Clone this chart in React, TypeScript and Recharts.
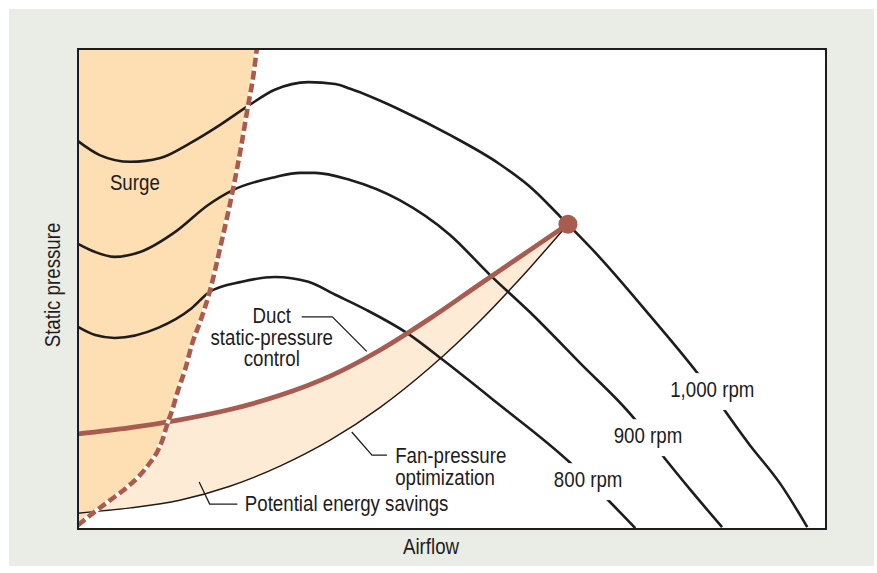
import { ComposedChart, Line, Area, Scatter, XAxis, YAxis } from 'recharts'

// fan curves (airflow 0-100, static pressure 0-100)
const rpm1000X = [0, 2.9, 7.0, 11.0, 15.0, 19.0, 22.7, 26.3, 30.8, 34.4, 36.4, 43.1, 49.7, 56.4, 60.8, 64.4, 69.8, 76.5, 82.8, 89.8, 93.9, 97.5]
const rpm1000Y = [80.8, 77.9, 76.5, 77.3, 80.4, 84.2, 88.1, 91.5, 93.1, 92.7, 91.7, 87.3, 82.1, 76.0, 70.8, 65.2, 56.5, 44.4, 32.5, 17.5, 9.4, 0.4]

const rpm900X = [0, 2.3, 4.9, 8.3, 13.0, 17.4, 20.7, 26.3, 29.7, 31.7, 36.4, 43.0, 49.7, 55.1, 60.4, 67.1, 74.2, 77.8, 81.8, 86.1]
const rpm900Y = [59.4, 57.7, 56.7, 57.7, 61.9, 67.5, 70.6, 73.3, 74.2, 74.2, 72.7, 68.5, 61.3, 52.9, 45.2, 34.6, 23.3, 16.0, 8.3, 0.4]

const rpm800X = [0, 2.3, 4.9, 10.7, 15.2, 17.6, 21.9, 26.3, 30.8, 34.4, 38.6, 44.0, 48.8, 56.0, 65.8, 69.8, 74.5]
const rpm800Y = [42.1, 40.4, 39.8, 41.9, 46.0, 49.4, 51.5, 52.5, 51.5, 48.8, 45.6, 40.8, 35.2, 26.3, 13.8, 7.7, 0.2]

// surge limit line
const surgeX = [0, 2.0, 4.3, 6.6, 8.3, 9.6, 10.6, 11.3, 11.9, 12.6, 13.4, 14.3, 15.2, 16.4, 17.6, 19.1, 20.7, 21.8, 22.7, 23.4, 23.9]
const surgeY = [0.8, 3.3, 6.0, 8.75, 11.25, 13.75, 16.1, 18.6, 21.7, 24.8, 29.0, 33.1, 38.3, 43.5, 49.4, 59.2, 70.6, 79.6, 87.9, 94.0, 100]

// system curves: duct static-pressure control vs fan-pressure optimization
const systemX = [0, 7.0, 13.6, 20.3, 27.0, 33.7, 40.4, 47.1, 53.7, 60.4, 65.5]
const ductY = [19.8, 21.1, 22.75, 24.9, 27.85, 31.85, 37.3, 43.9, 51.0, 58.1, 63.5]
const optY = [3.3, 4.4, 6.0, 8.9, 13.1, 18.5, 25.35, 33.7, 43.3, 54.4, 63.5]

const designPoint = [{ x: 65.5, y: 63.5 }]

// leader lines from the callouts
const ductLeader = [{ x: 29.9, y: 44.2 }, { x: 34.0, y: 44.2 }, { x: 38.6, y: 37.0 }]
const optLeader = [{ x: 41.3, y: 15.4 }, { x: 39.3, y: 15.4 }, { x: 36.6, y: 20.2 }]
const savingsLeader = [{ x: 21.3, y: 5.2 }, { x: 17.6, y: 5.2 }, { x: 16.2, y: 9.8 }]

const notes = [
  { x: 7.6, y: 70.6, text: 'Surge', anchor: 'middle', bg: false },
  { x: 25.9, y: 43.0, text: 'Duct', anchor: 'middle', bg: false },
  { x: 25.9, y: 38.4, text: 'static-pressure', anchor: 'middle', bg: false },
  { x: 25.9, y: 34.0, text: 'control', anchor: 'middle', bg: false },
  { x: 42.4, y: 13.75, text: 'Fan-pressure', anchor: 'start', bg: false },
  { x: 42.4, y: 9.2, text: 'optimization', anchor: 'start', bg: false },
  { x: 22.3, y: 3.75, text: 'Potential energy savings', anchor: 'start', bg: false },
  { x: 84.8, y: 27.5, text: '1,000 rpm', anchor: 'middle', bg: true },
  { x: 76.2, y: 17.9, text: '900 rpm', anchor: 'middle', bg: true },
  { x: 68.2, y: 8.75, text: '800 rpm', anchor: 'middle', bg: true },
]

const FONT = "'Liberation Sans', Arial, sans-serif"
const FS = 22
const SQUEEZE = 0.85
const INK = '#1e1c1d'
const BROWN = '#a95b4f'
const SURGE_FILL = '#fddfb3'
const SAVINGS_FILL = '#fdebd5'
const PANEL = '#eaede5'

const toPoints = (xs: number[], ys: number[]) => xs.map((x, i) => ({ x, y: ys[i] }))

const rpm1000 = toPoints(rpm1000X, rpm1000Y)
const rpm900 = toPoints(rpm900X, rpm900Y)
const rpm800 = toPoints(rpm800X, rpm800Y)
const surge = surgeX.map((x, i) => ({ x, y: surgeY[i], band: [surgeY[i], 100] }))
const system = systemX.map((x, i) => ({ x, duct: ductY[i], opt: optY[i], band: [optY[i], ductY[i]] }))

// condensed look: Liberation Sans squeezed horizontally
function NarrowText({ x, y, anchor = 'middle', rotate = 0, dy, children }: any) {
  return (
    <g transform={`translate(${x},${y}) rotate(${rotate}) scale(${SQUEEZE},1)`}>
      <text x={0} y={0} dy={dy} textAnchor={anchor} fontSize={FS} fontFamily={FONT} fill={INK}>
        {children}
      </text>
    </g>
  )
}

function Note(props: any) {
  const { cx, cy, payload } = props
  const w = payload.text.length * FS * 0.45
  const left = payload.anchor === 'middle' ? cx - w / 2 : cx
  return (
    <g>
      {payload.bg && <rect x={left - 3} y={cy - FS * 0.72 - 8} width={w + 6} height={FS * 0.95 + 16} fill="#fff" />}
      <NarrowText x={cx} y={cy} anchor={payload.anchor}>
        {payload.text}
      </NarrowText>
    </g>
  )
}

function Dot(props: any) {
  return <circle cx={props.cx} cy={props.cy} r={9.5} fill={BROWN} />
}

const xTitle = (p: any) => {
  const vb = p.viewBox
  return (
    <NarrowText x={vb.x + vb.width / 2 - 21} y={vb.y + 25}>
      Airflow
    </NarrowText>
  )
}

const yTitle = (p: any) => {
  const vb = p.viewBox
  return (
    <NarrowText x={vb.x + 52} y={vb.y + vb.height / 2 - 4} rotate={-90} dy="0.36em">
      Static pressure
    </NarrowText>
  )
}

export default function App() {
  return (
    <div style={{ position: 'absolute', left: 0, top: 0, width: 877, height: 573, background: '#fff' }}>
      <div style={{ position: 'absolute', left: 9, top: 9, width: 865, height: 557, background: PANEL }} />
      <div style={{ position: 'absolute', left: 78, top: 49, width: 748, height: 480, background: '#fff' }} />
      <div style={{ position: 'absolute', left: 0, top: 0 }}>
        <ComposedChart width={877} height={573} margin={{ top: 49, right: 51, bottom: 0, left: 0 }}>
          <XAxis type="number" dataKey="x" domain={[0, 100]} tick={false} tickLine={false} axisLine={false} height={44} label={xTitle} />
          <YAxis type="number" dataKey="y" domain={[0, 100]} tick={false} tickLine={false} axisLine={false} width={78} label={yTitle} />

          <Area data={system} dataKey="band" type="monotone" fill={SAVINGS_FILL} fillOpacity={1} stroke="none" isAnimationActive={false} />
          <Area data={surge} dataKey="band" type="monotone" fill={SURGE_FILL} fillOpacity={1} stroke="none" isAnimationActive={false} />

          <Line data={rpm800} dataKey="y" type="monotone" stroke={INK} strokeWidth={2.6} dot={false} isAnimationActive={false} />
          <Line data={rpm900} dataKey="y" type="monotone" stroke={INK} strokeWidth={2.6} dot={false} isAnimationActive={false} />
          <Line data={rpm1000} dataKey="y" type="monotone" stroke={INK} strokeWidth={2.6} dot={false} isAnimationActive={false} />

          <Line data={system} dataKey="opt" type="monotone" stroke={INK} strokeWidth={1.5} dot={false} isAnimationActive={false} />
          <Line data={ductLeader} dataKey="y" type="linear" stroke={INK} strokeWidth={1.3} dot={false} isAnimationActive={false} />
          <Line data={optLeader} dataKey="y" type="linear" stroke={INK} strokeWidth={1.3} dot={false} isAnimationActive={false} />
          <Line data={savingsLeader} dataKey="y" type="linear" stroke={INK} strokeWidth={1.3} dot={false} isAnimationActive={false} />
          <Line data={system} dataKey="duct" type="monotone" stroke={BROWN} strokeWidth={4.8} dot={false} isAnimationActive={false} />

          <Line data={surge} dataKey="y" type="monotone" stroke="#fff" strokeWidth={4} dot={false} isAnimationActive={false} />
          <Line data={surge} dataKey="y" type="monotone" stroke={BROWN} strokeWidth={4.6} strokeDasharray="9 4" dot={false} isAnimationActive={false} />

          <Scatter data={designPoint} shape={Dot} isAnimationActive={false} />
          <Scatter data={notes} shape={Note} isAnimationActive={false} />
        </ComposedChart>
      </div>
      <div
        style={{
          position: 'absolute',
          left: 77,
          top: 48,
          width: 750,
          height: 482,
          border: `2px solid ${INK}`,
          boxSizing: 'border-box',
          pointerEvents: 'none',
        }}
      />
    </div>
  )
}
